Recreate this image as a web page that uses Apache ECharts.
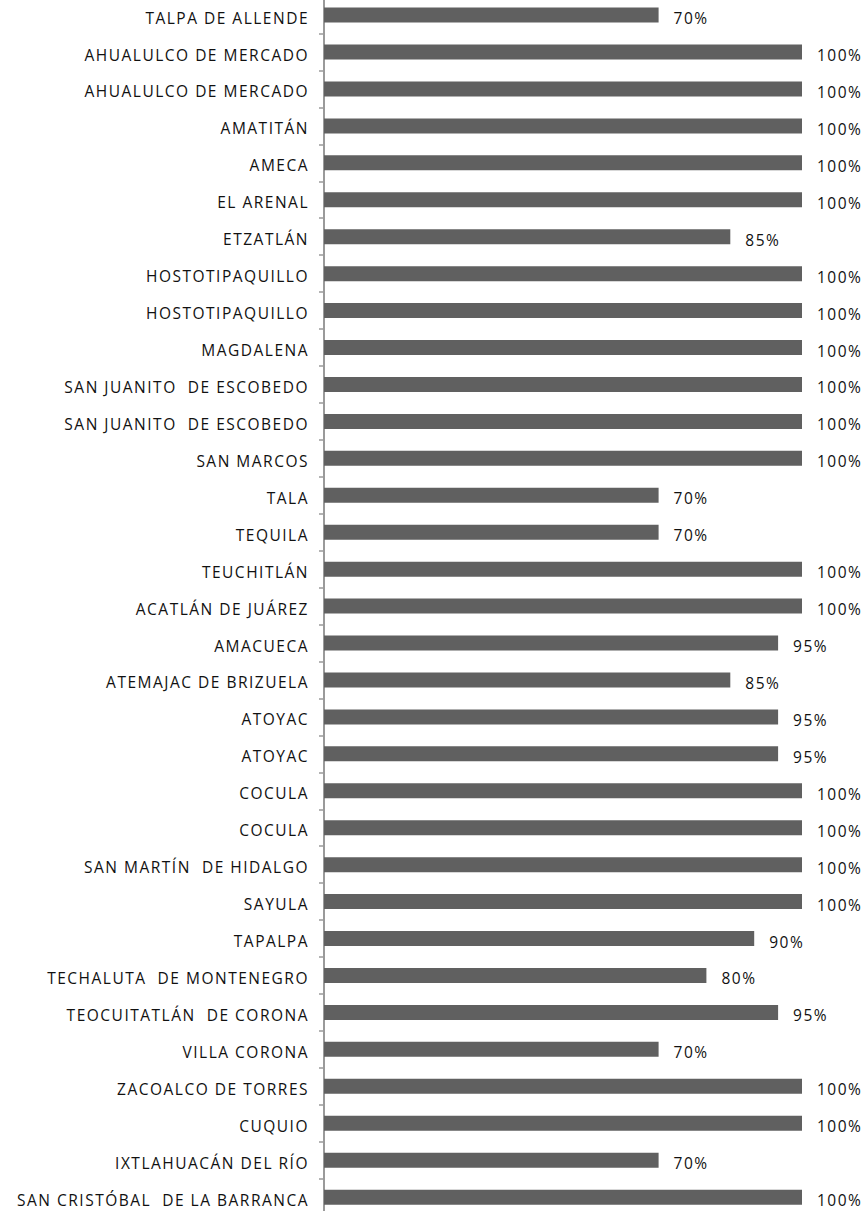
<!DOCTYPE html>
<html>
<head>
<meta charset="utf-8">
<script src="https://cdn.jsdelivr.net/npm/echarts@6/dist/echarts.min.js"></script>
<style>
html,body{margin:0;padding:0;background:#fff;}
#c{width:868px;height:1211px;}
#c svg text{letter-spacing:1.5px;}
</style>
</head>
<body>
<div id="c"></div>
<script>
const categories = [
  "TALPA DE ALLENDE",
  "AHUALULCO DE MERCADO",
  "AHUALULCO DE MERCADO",
  "AMATITÁN",
  "AMECA",
  "EL ARENAL",
  "ETZATLÁN",
  "HOSTOTIPAQUILLO",
  "HOSTOTIPAQUILLO",
  "MAGDALENA",
  "SAN JUANITO  DE ESCOBEDO",
  "SAN JUANITO  DE ESCOBEDO",
  "SAN MARCOS",
  "TALA",
  "TEQUILA",
  "TEUCHITLÁN",
  "ACATLÁN DE JUÁREZ",
  "AMACUECA",
  "ATEMAJAC DE BRIZUELA",
  "ATOYAC",
  "ATOYAC",
  "COCULA",
  "COCULA",
  "SAN MARTÍN  DE HIDALGO",
  "SAYULA",
  "TAPALPA",
  "TECHALUTA  DE MONTENEGRO",
  "TEOCUITATLÁN  DE CORONA",
  "VILLA CORONA",
  "ZACOALCO DE TORRES",
  "CUQUIO",
  "IXTLAHUACÁN DEL RÍO",
  "SAN CRISTÓBAL  DE LA BARRANCA"
];
const values = [70,100,100,100,100,100,85,100,100,100,100,100,100,70,70,100,100,95,85,95,95,100,100,100,100,90,80,95,70,100,100,70,100];

const chart = echarts.init(document.getElementById('c'), null, {renderer:'svg'});
chart.setOption({
  animation: false,
  grid: {left: 324, right: 66, top: -3.4, bottom: -4.6, containLabel: false, outerBoundsMode: 'none'},
  xAxis: {
    type: 'value', min: 0, max: 100, show: false
  },
  yAxis: {
    type: 'category',
    data: categories,
    inverse: true,
    axisLine: {show: true, lineStyle: {color: '#9a9a9a', width: 2}},
    axisTick: {show: true, inside: false, length: 5, lineStyle: {color: '#9a9a9a', width: 1.5}},
    axisLabel: {
      interval: 0, margin: 15, color: '#111',
      fontFamily: 'Open Sans', fontSize: 15.5,
      verticalAlign: 'top', lineHeight: 5
    },
    splitLine: {show: false}
  },
  series: [{
    type: 'bar',
    data: values,
    barWidth: 15,
    itemStyle: {color: '#606060'},
    label: {
      show: true, position: 'right', distance: 15,
      formatter: p => p.value + '%',
      color: '#111', fontFamily: 'Open Sans', fontSize: 15.5,
      offset: [0, 3]
    }
  }]
});
</script>
</body>
</html>
